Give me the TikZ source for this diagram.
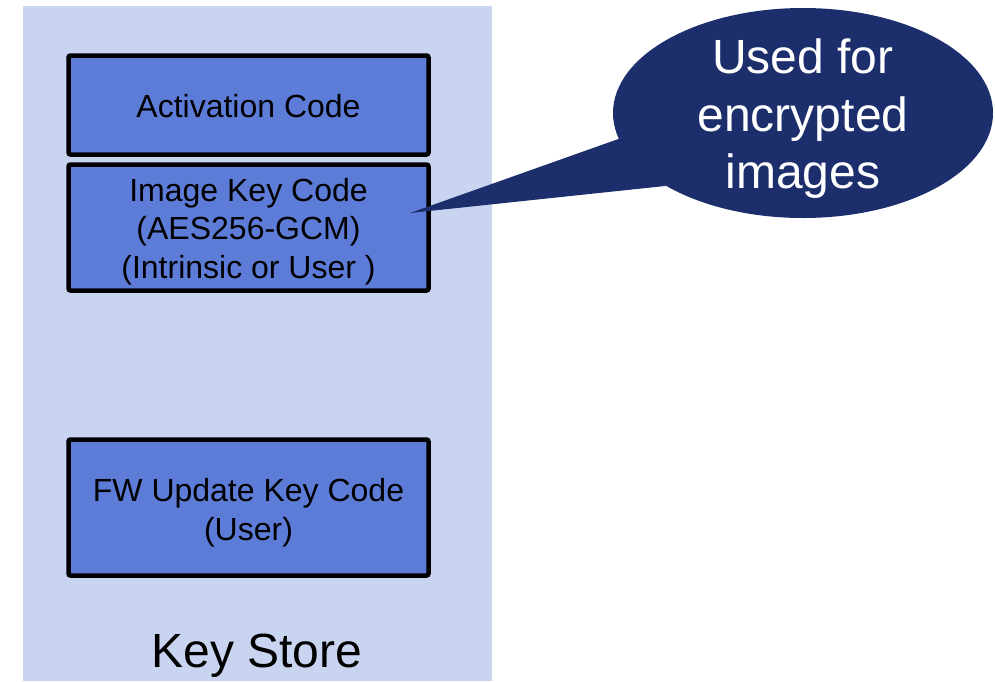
\documentclass[tikz,border=0pt]{standalone}
\usepackage{fontspec}
\setmainfont{Liberation Sans}
\usetikzlibrary{shapes.geometric}
\definecolor{panelblue}{RGB}{201,212,240}
\definecolor{boxblue}{RGB}{92,124,216}
\definecolor{navy}{RGB}{28,46,107}

\begin{document}
\begin{tikzpicture}[x=1pt,y=-1pt,
  keybox/.style={draw=black, line width=4.5pt, fill=boxblue, rounded corners=2pt,
    minimum width=360pt, inner sep=0pt},
  keytext/.style={align=center, inner sep=0pt, font=\fontsize{32}{38.5}\selectfont},
  bubble/.style={ellipse, fill=navy, minimum width=380pt, minimum height=210pt, inner sep=0pt},
]
\useasboundingbox (0,0) rectangle (995,681);

% key store panel
\fill[panelblue] (23,6) rectangle (492,681);

% stored keys
\node[keybox, minimum height=99pt]  (act) at (248.5,105)   {};
\node[keybox, minimum height=126pt] (img) at (248.5,227.5) {};
\node[keybox, minimum height=136pt] (fw)  at (248.5,507.5) {};
\node[keytext] (acttext) at ([yshift=-1.5pt]act.center) {Activation Code};
\node[keytext] (imgtext) at ([yshift=-4pt]img.center) {Image Key Code\\(AES256-GCM)\\(Intrinsic or User )};
\node[keytext] (fwtext)  at ([yshift=-5pt]fw.center)  {FW Update Key Code\\(User)};
\node[anchor=base, font=\fontsize{48}{55}\selectfont] (ks) at (257,667) {Key Store};

% callout
\node[bubble] (call) at (803,113) {};
\coordinate (tip) at (410,213);
\fill[navy] (tip) -- (call.188) -- (call.208) -- cycle;
\node[text=white, align=center, font=\fontsize{48}{57.5}\selectfont] (calltext) at (803,119)
  {Used for\\encrypted\\images};
\end{tikzpicture}
\end{document}
